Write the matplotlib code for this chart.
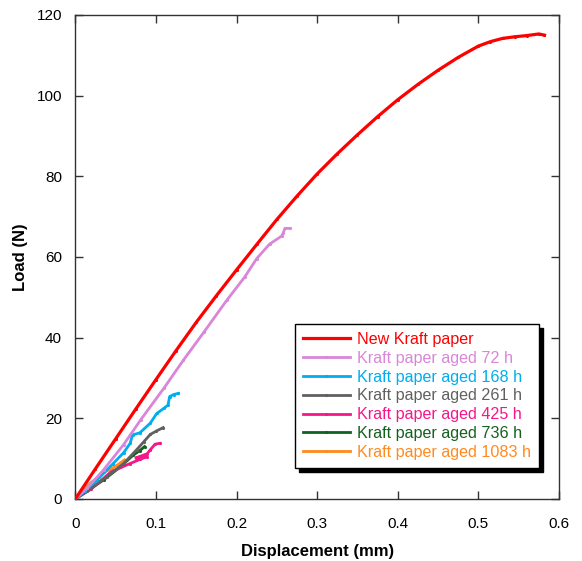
import matplotlib
matplotlib.use("Agg")
import matplotlib.pyplot as plt

# ---------------------------------------------------------
# DATA
# ---------------------------------------------------------

new_x = [0.0, 0.025, 0.05, 0.075, 0.10, 0.125, 0.15, 0.175, 0.20, 0.225,
         0.25, 0.275, 0.30, 0.325, 0.35, 0.375, 0.40, 0.425, 0.45, 0.475,
         0.50, 0.515, 0.53, 0.545, 0.56, 0.575, 0.582]
new_y = [0.0, 7.5, 14.9, 22.3, 29.6, 36.8, 43.8, 50.4, 56.8, 63.1,
         69.3, 75.1, 80.6, 85.6, 90.3, 94.8, 99.0, 102.8, 106.3, 109.5,
         112.3, 113.4, 114.2, 114.6, 114.9, 115.3, 115.0]

h72_x = [0.0, 0.015, 0.035, 0.060, 0.081, 0.110, 0.134, 0.160, 0.188, 0.210,
         0.225, 0.241, 0.256, 0.258, 0.260, 0.266]
h72_y = [0.0, 2.8, 7.2, 13.5, 19.6, 27.5, 34.4, 41.5, 49.3, 55.0,
         59.6, 63.2, 65.2, 66.0, 67.1, 67.1]

h168_x = [0.0, 0.012, 0.027, 0.047, 0.060, 0.068, 0.071, 0.080, 0.093, 0.101,
          0.110, 0.115, 0.117, 0.122, 0.128]
h168_y = [0.0, 2.0, 4.7, 8.8, 11.5, 13.8, 15.9, 16.4, 18.8, 21.2,
          22.5, 23.3, 25.4, 25.9, 26.2]

h261_x = [0.0, 0.015, 0.039, 0.060, 0.076, 0.085, 0.093, 0.100, 0.109]
h261_y = [0.0, 2.0, 5.5, 8.8, 12.2, 14.2, 16.0, 16.8, 17.7]

h425_x = [0.0, 0.020, 0.044, 0.068, 0.080, 0.089, 0.075, 0.089, 0.093, 0.099, 0.105]
h425_y = [0.0, 2.5, 6.7, 8.8, 9.8, 10.5, 10.2, 11.2, 12.2, 13.6, 13.8]

h736_x = [0.0, 0.010, 0.035, 0.056, 0.072, 0.080, 0.086]
h736_y = [0.0, 1.4, 4.7, 8.0, 10.9, 12.0, 13.0]

h1083_x = [0.0, 0.010, 0.018, 0.030, 0.035, 0.045, 0.052, 0.061]
h1083_y = [0.0, 2.0, 3.9, 5.5, 6.6, 7.5, 8.4, 9.7]

series_x = [new_x, h72_x, h168_x, h261_x, h425_x, h736_x, h1083_x]
series_y = [new_y, h72_y, h168_y, h261_y, h425_y, h736_y, h1083_y]
labels = ["New Kraft paper", "Kraft paper aged 72 h", "Kraft paper aged 168 h",
          "Kraft paper aged 261 h", "Kraft paper aged 425 h",
          "Kraft paper aged 736 h", "Kraft paper aged 1083 h"]
colors = ["#ff0000", "#d986d9", "#00adef", "#606060", "#f5168a",
          "#13611f", "#ff8a1e"]

x_ticks = [0, 0.1, 0.2, 0.3, 0.4, 0.5, 0.6]
y_ticks = [0, 20, 40, 60, 80, 100, 120]

# ---------------------------------------------------------
# PLOT
# ---------------------------------------------------------

plt.rcParams["font.family"] = ["Liberation Sans", "DejaVu Sans"]

fig = plt.figure(figsize=(5.82, 5.61), dpi=100)
ax = fig.add_axes([75.3 / 582, 62 / 561, 483.7 / 582, 484 / 561])

for i, (xs, ys) in enumerate(zip(series_x, series_y)):
    ax.plot(xs, ys, color=colors[i], lw=2.3 if i == 0 else 2.0,
            marker=".", markersize=2.5, label=labels[i], zorder=10 - i,
            solid_joinstyle="round")

ax.set_xlim(0, 0.6)
ax.set_ylim(0, 120)
ax.set_xticks(x_ticks)
ax.set_yticks(y_ticks)
ax.set_xticklabels([f"{v:g}" for v in x_ticks])
ax.tick_params(direction="in", length=5.5, width=1, top=True, right=True,
               labelsize=11, color="#333333")
ax.tick_params(axis="x", pad=13)
ax.tick_params(axis="y", pad=9.5)
for s in ax.spines.values():
    s.set_color("#333333")
    s.set_linewidth(1)

ax.set_xlabel("Displacement (mm)", fontsize=12, fontweight="bold", labelpad=9)
ax.set_ylabel("Load (N)", fontsize=12, fontweight="bold", labelpad=6.5)

leg = ax.legend(loc="lower left", bbox_to_anchor=(0.454, 0.064),
                borderaxespad=0, fontsize=11.6, frameon=True, fancybox=False,
                shadow={"color": "black", "alpha": 1, "ox": 3, "oy": -3},
                edgecolor="black", framealpha=1, handlelength=2.9,
                handletextpad=0.45, labelspacing=0.24, borderpad=0.5)
leg.get_frame().set_linewidth(1)
for txt, c in zip(leg.get_texts(), colors):
    txt.set_color(c)

fig.savefig("out.png", dpi=100)
plt.close(fig)
